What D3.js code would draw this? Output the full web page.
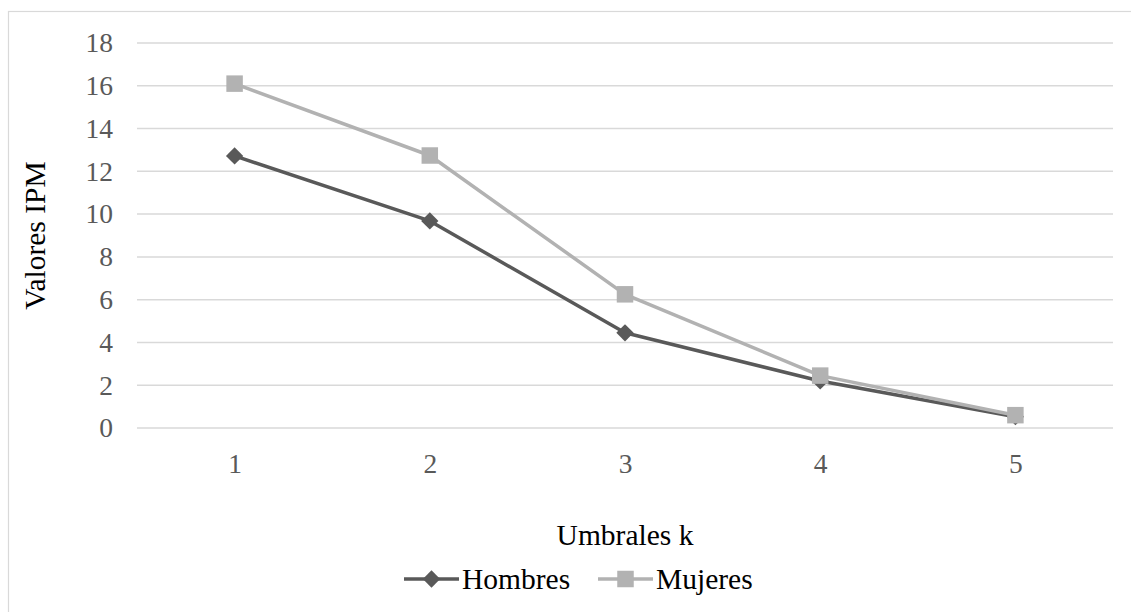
<!DOCTYPE html>
<html>
<head>
<meta charset="utf-8">
<script src="https://cdn.jsdelivr.net/npm/d3@7"></script>
<style>
  html, body { margin: 0; padding: 0; background: #fff; }
  svg { display: block; }
  text { font-family: "Liberation Serif", "Times New Roman", serif; }
</style>
</head>
<body>
<svg id="chart" width="1131" height="612"></svg>
<script>
// Umbrales k on the x axis, IPM values per sex
const thresholds = ["1", "2", "3", "4", "5"];
const hombres = [12.72, 9.68, 4.45, 2.2, 0.53];
const mujeres = [16.1, 12.74, 6.25, 2.45, 0.6];
const yTicks = [0, 2, 4, 6, 8, 10, 12, 14, 16, 18];
const seriesNames = ["Hombres", "Mujeres"];

const W = 1131, H = 612;
const plot = { left: 137, right: 1113, top: 43, bottom: 428 };
const colors = { Hombres: "#595959", Mujeres: "#b2b2b2" };

const svg = d3.select("#chart");

// chart frame
svg.append("rect")
  .attr("x", 8.5).attr("y", 11.5)
  .attr("width", W + 20).attr("height", H + 20)
  .attr("fill", "#fff").attr("stroke", "#d9d9d9").attr("stroke-width", 1.2);

const x = d3.scalePoint().domain(thresholds)
  .range([plot.left, plot.right]).padding(0.5);
const y = d3.scaleLinear().domain([0, 18]).range([plot.bottom, plot.top]);

// horizontal gridlines
svg.append("g").selectAll("line").data(yTicks).join("line")
  .attr("x1", plot.left).attr("x2", plot.right)
  .attr("y1", d => y(d)).attr("y2", d => y(d))
  .attr("stroke", "#d9d9d9").attr("stroke-width", 1.5);

// y axis labels
const yAxis = d3.axisLeft(y).tickValues(yTicks).tickSize(0).tickPadding(0);
const gy = svg.append("g").attr("transform", `translate(${plot.left - 24},0)`).call(yAxis);
gy.select(".domain").remove();
gy.selectAll("text")
  .attr("font-family", "Liberation Serif, serif")
  .attr("font-size", 27.5).attr("fill", "#595959");

// x axis labels
const xAxis = d3.axisBottom(x).tickSize(0).tickPadding(0);
const gx = svg.append("g").attr("transform", `translate(0,${plot.bottom + 25})`).call(xAxis);
gx.select(".domain").remove();
gx.selectAll("text")
  .attr("font-family", "Liberation Serif, serif")
  .attr("font-size", 27.5).attr("fill", "#595959");

// axis titles
svg.append("text")
  .attr("x", 625).attr("y", 545)
  .attr("text-anchor", "middle").attr("font-size", 29.5).attr("fill", "#000")
  .text("Umbrales k");

svg.append("text")
  .attr("transform", `translate(45,${(plot.top + plot.bottom) / 2}) rotate(-90)`)
  .attr("text-anchor", "middle").attr("font-size", 29.5).attr("fill", "#000")
  .text("Valores IPM");

const diamond = d3.symbol().type(d3.symbolSquare).size(150);
const square = d3.symbol().type(d3.symbolSquare).size(272);

function drawSeries(name, values, markerPath, rotate) {
  const pts = values.map((v, i) => [x(thresholds[i]), y(v)]);
  svg.append("path")
    .attr("d", d3.line()(pts))
    .attr("fill", "none").attr("stroke", colors[name])
    .attr("stroke-width", 3.5).attr("stroke-linejoin", "round");
  svg.append("g").selectAll("path").data(pts).join("path")
    .attr("d", markerPath)
    .attr("transform", d => `translate(${d[0]},${d[1]}) rotate(${rotate})`)
    .attr("fill", colors[name]);
}

drawSeries("Hombres", hombres, diamond(), 45);
drawSeries("Mujeres", mujeres, square(), 0);

// legend
const legendItems = [
  { name: seriesNames[0], x0: 404, marker: diamond(), rotate: 45 },
  { name: seriesNames[1], x0: 598, marker: square(), rotate: 0 }
];
const ly = 579;
const lg = svg.append("g");
legendItems.forEach(it => {
  lg.append("line")
    .attr("x1", it.x0).attr("x2", it.x0 + 55)
    .attr("y1", ly).attr("y2", ly)
    .attr("stroke", colors[it.name]).attr("stroke-width", 3.5);
  lg.append("path").attr("d", it.marker)
    .attr("transform", `translate(${it.x0 + 27.5},${ly}) rotate(${it.rotate})`)
    .attr("fill", colors[it.name]);
  lg.append("text")
    .attr("x", it.x0 + 58).attr("y", ly + 9.5)
    .attr("font-size", 29.5).attr("fill", "#000")
    .text(it.name);
});
</script>
</body>
</html>
